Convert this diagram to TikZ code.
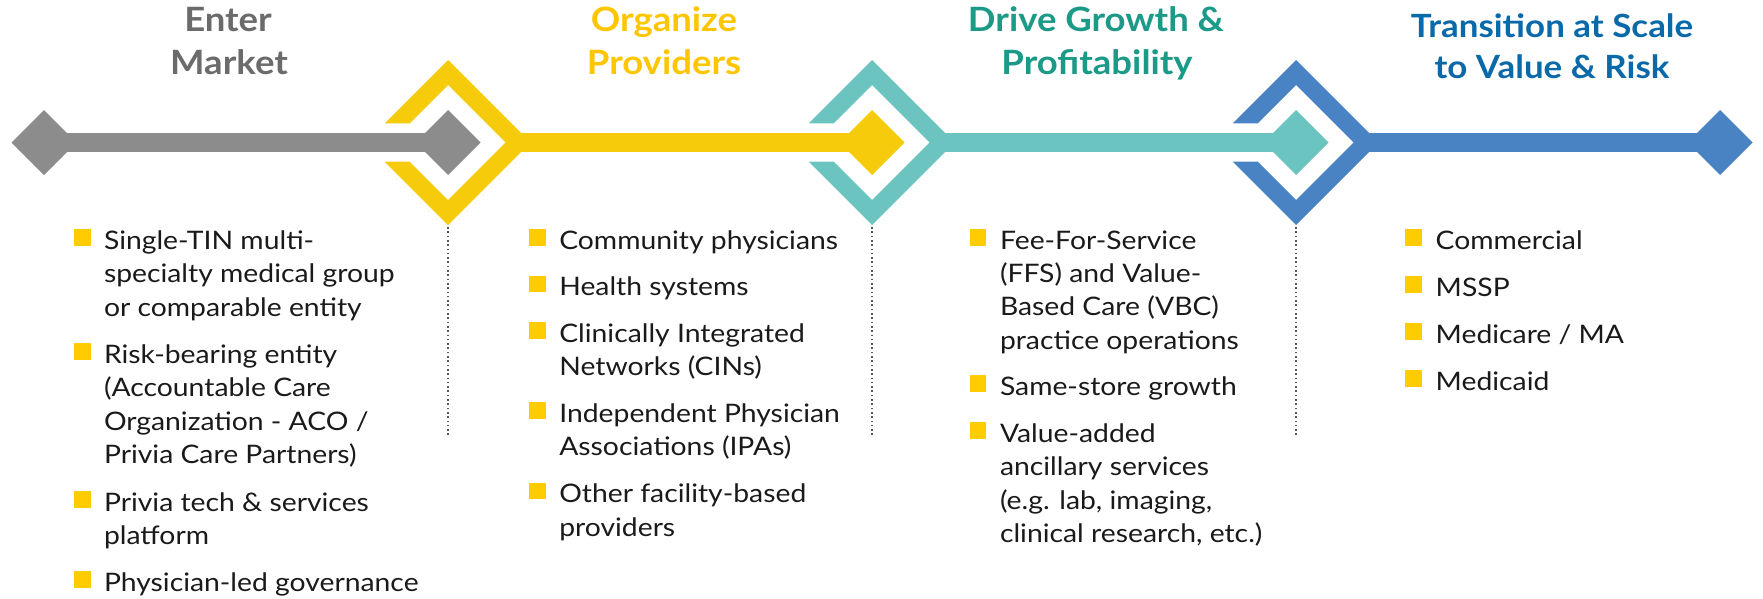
\documentclass[tikz,border=0pt]{standalone}
\usepackage{fontspec}
\setmainfont{Lato}[FakeStretch=1.09]
\newfontfamily\bodyfont{Lato}[FakeStretch=1.11]
\usetikzlibrary{shapes.geometric}
\definecolor{sgray}{HTML}{8C8C8C}
\definecolor{syel}{HTML}{F5CB0C}
\definecolor{steal}{HTML}{6CC4C0}
\definecolor{sblue}{HTML}{4A83C4}
\definecolor{tgray}{HTML}{6B6B6B}
\definecolor{tyel}{HTML}{FFC600}
\definecolor{tteal}{HTML}{1B9A87}
\definecolor{tblue}{HTML}{0A69A8}
\definecolor{bulc}{HTML}{FFCC00}
\definecolor{txt}{HTML}{1A1A1A}
\definecolor{dotc}{HTML}{555555}
\tikzset{
  x=1pt, y=-1pt,
  body/.style={anchor=base west, inner sep=0pt, outer sep=0pt, text=txt, font=\bodyfont\fontsize{25.5}{30}\selectfont},
  ttl/.style={anchor=base, inner sep=0pt, outer sep=0pt, font=\bfseries\fontsize{33.5}{40}\selectfont},
  ttlsmall/.style={ttl, font=\bfseries\fontsize{32}{38}\selectfont},
  bul/.style={fill=bulc, minimum size=16.5pt, inner sep=0pt, outer sep=0pt, anchor=north west},
  dots/.style={draw=dotc, line width=1.6pt, dash pattern=on 1.6pt off 2.7pt},
  dia/.style={diamond, minimum width=65pt, minimum height=65pt, inner sep=0pt, outer sep=0pt},
  bar/.style={line width=18.3pt},
  chev/.pic={\fill[pic actions] (-63.3,-19.2) -- (0,-82.5) -- (82.5,0) -- (0,82.5) -- (-63.3,19.2) -- (-38.3,19.2) -- (0,57.5) -- (57.5,0) -- (0,-57.5) -- (-38.3,-19.2) -- cycle;}
}
\begin{document}
\begin{tikzpicture}
\useasboundingbox (0,0) rectangle (1763,598);
% coordinates
\coordinate (c1) at (448,142.5);
\coordinate (c2) at (872,142.5);
\coordinate (c3) at (1296,142.5);
\coordinate (c1tip) at (505.5,142.5);
\coordinate (c2tip) at (929.5,142.5);
\coordinate (c3tip) at (1353.5,142.5);
% gray
\node[dia, fill=sgray] (d0) at (44,142.5) {};
\node[dia, fill=sgray] (d1) at (c1) {};
\draw[bar, sgray] (d0.center) -- (d1.center);
% yellow
\pic[fill=syel] at (c1) {chev};
\node[dia, fill=syel] (d2) at (c2) {};
\draw[bar, syel] (c1tip) -- (d2.center);
% teal
\pic[fill=steal] at (c2) {chev};
\node[dia, fill=steal] (d3) at (c3) {};
\draw[bar, steal] (c2tip) -- (d3.center);
% blue
\pic[fill=sblue] at (c3) {chev};
\node[dia, fill=sblue] (d4) at (1720,142.5) {};
\draw[bar, sblue] (c3tip) -- (d4.center);
% dotted separators
\coordinate (v1a) at (448,227); \coordinate (v1b) at (448,436);
\coordinate (v2a) at (872,227); \coordinate (v2b) at (872,436);
\coordinate (v3a) at (1296,227); \coordinate (v3b) at (1296,436);
\draw[dots] (v1a) -- (v1b);
\draw[dots] (v2a) -- (v2b);
\draw[dots] (v3a) -- (v3b);
% titles
\node[ttl, text=tgray] (t1a) at (228,31.5) {Enter};
\node[ttl, text=tgray] (t1b) at (229,74.5) {Market};
\node[ttl, text=tyel] (t2a) at (664,31.5) {Organize};
\node[ttl, text=tyel] (t2b) at (664,74.5) {Providers};
\node[ttl, text=tteal] (t3a) at (1096,31.5) {Drive Growth \&};
\node[ttl, text=tteal] (t3b) at (1097,74.5) {Profitability};
\node[ttlsmall, text=tblue] (t4a) at (1552,37) {Transition at Scale};
\node[ttlsmall, text=tblue] (t4b) at (1552,78.5) {to Value \& Risk};
% column 1
\node[bul] (b11) at (74,229) {};
\node[body] (l11a) at (104,249) {Single-TIN multi-};
\node[body] (l11b) at (104,282.5) {specialty medical group};
\node[body] (l11c) at (104,316) {or comparable entity};
\node[bul] (b12) at (74,343.3) {};
\node[body] (l12a) at (104,363.3) {Risk-bearing entity};
\node[body] (l12b) at (104,396.8) {(Accountable Care};
\node[body] (l12c) at (104,430.3) {Organization - ACO /};
\node[body] (l12d) at (104,463.8) {Privia Care Partners)};
\node[bul] (b13) at (74,491) {};
\node[body] (l13a) at (104,511) {Privia tech \& services};
\node[body] (l13b) at (104,544.5) {platform};
\node[bul] (b14) at (74,571) {};
\node[body] (l14a) at (104,591) {Physician-led governance};
% column 2
\node[bul] (b21) at (529,229) {};
\node[body] (l21a) at (559.3,249) {Community physicians};
\node[bul] (b22) at (529,275.5) {};
\node[body] (l22a) at (559.3,295.5) {Health systems};
\node[bul] (b23) at (529,322) {};
\node[body] (l23a) at (559.3,342) {Clinically Integrated};
\node[body] (l23b) at (559.3,375.5) {Networks (CINs)};
\node[bul] (b24) at (529,402.3) {};
\node[body] (l24a) at (559.3,422.3) {Independent Physician};
\node[body] (l24b) at (559.3,455.8) {Associations (IPAs)};
\node[bul] (b25) at (529,482.7) {};
\node[body] (l25a) at (559.3,502.7) {Other facility-based};
\node[body] (l25b) at (559.3,536.2) {providers};
% column 3
\node[bul] (b31) at (969.5,229) {};
\node[body] (l31a) at (1000,249) {Fee-For-Service};
\node[body] (l31b) at (1000,282) {(FFS) and Value-};
\node[body] (l31c) at (1000,315.5) {Based Care (VBC)};
\node[body] (l31d) at (1000,349) {practice operations};
\node[bul] (b32) at (969.5,375.3) {};
\node[body] (l32a) at (1000,395.3) {Same-store growth};
\node[bul] (b33) at (969.5,422.3) {};
\node[body] (l33a) at (1000,442.3) {Value-added};
\node[body] (l33b) at (1000,475.8) {ancillary services};
\node[body] (l33c) at (1000,509.3) {(e.g. lab, imaging,};
\node[body] (l33d) at (1000,542.8) {clinical research, etc.)};
% column 4
\node[bul] (b41) at (1405,229) {};
\node[body] (l41a) at (1435.7,249) {Commercial};
\node[bul] (b42) at (1405,276) {};
\node[body] (l42a) at (1435.7,296) {MSSP};
\node[bul] (b43) at (1405,323) {};
\node[body] (l43a) at (1435.7,343) {Medicare / MA};
\node[bul] (b44) at (1405,370) {};
\node[body] (l44a) at (1435.7,390) {Medicaid};
\end{tikzpicture}
\end{document}
